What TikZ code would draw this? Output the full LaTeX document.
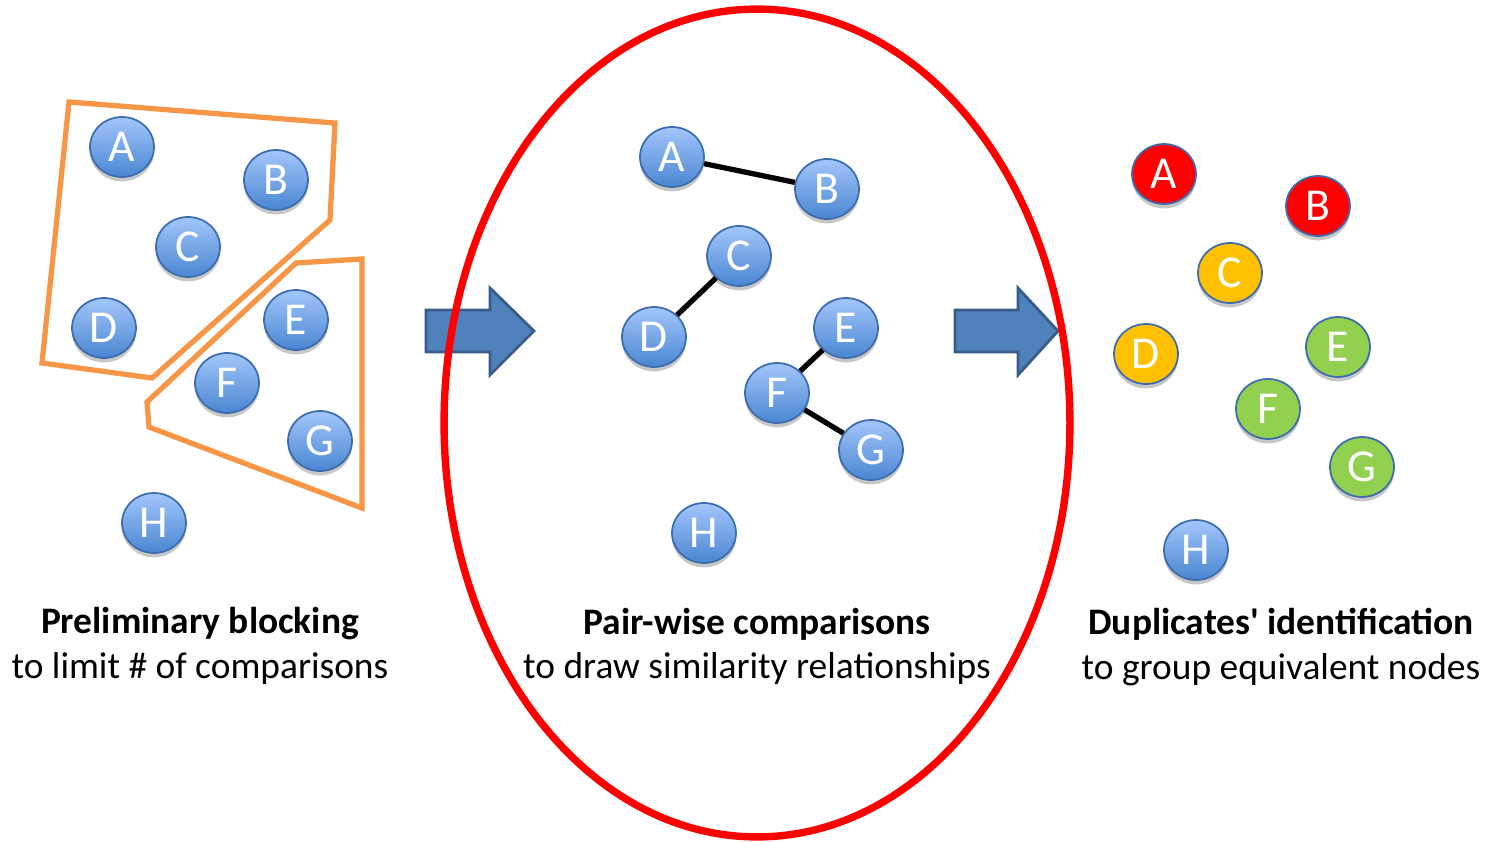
\documentclass[tikz,border=0pt]{standalone}
\usepackage{fontspec}
\setmainfont{Carlito}
\usetikzlibrary{shapes.geometric,shadows}
\definecolor{nodetop}{HTML}{A3C6FA}
\definecolor{nodebot}{HTML}{4A86D2}
\definecolor{nodeborder}{HTML}{3D6DAE}
\definecolor{blockorange}{HTML}{F79646}
\definecolor{arrowfill}{HTML}{4F81BD}
\definecolor{arrowdraw}{HTML}{385D8A}
\definecolor{dupred}{HTML}{FF0000}
\definecolor{dupyellow}{HTML}{FFC000}
\definecolor{dupgreen}{HTML}{92D050}
\tikzset{
  gnode/.style={ellipse, minimum width=1.28cm, minimum height=1.2cm, inner sep=0pt,
    draw=nodeborder, line width=1pt, text=white, font=\fontsize{26}{26}\selectfont,
    drop shadow={shadow xshift=0pt, shadow yshift=-2.5pt, opacity=0.22, fill=black}},
  bluenode/.style={gnode, top color=nodetop, bottom color=nodebot},
  rednode/.style={gnode, fill=dupred},
  yellownode/.style={gnode, fill=dupyellow},
  greennode/.style={gnode, fill=dupgreen},
  block/.style={draw=blockorange, line width=3pt, line join=miter},
  simedge/.style={draw=black, line width=3pt},
  bigarrow/.style={fill=arrowfill, draw=arrowdraw, line width=1.6pt, line join=miter},
  titletext/.style={font=\bfseries\fontsize{21.3}{21.3}\selectfont, text=black},
  subtext/.style={font=\fontsize{21.3}{21.3}\selectfont, text=black}
}
\begin{document}
\begin{tikzpicture}[x=0.02cm,y=-0.02cm]
\useasboundingbox (0,0) rectangle (1492,842);
% blocking polygons
\draw[block] (69,102) -- (335,123) -- (330,220) -- (152,378) -- (42,363) -- cycle;
\draw[block] (296,263) -- (362,259) -- (362,508) -- (149,427) -- (147,402) -- cycle;
% left nodes
\node[bluenode] (lA) at (122,147) {A};
\node[bluenode] (lB) at (276,180) {B};
\node[bluenode] (lC) at (188,247) {C};
\node[bluenode] (lD) at (104,328) {D};
\node[bluenode] (lE) at (296,320) {E};
\node[bluenode] (lF) at (227,383) {F};
\node[bluenode] (lG) at (320,441) {G};
\node[bluenode] (lH) at (154,523) {H};
% arrows
\draw[bigarrow] (426,310) -- (490,310) -- (490,288) -- (534,331) -- (490,375) -- (490,352) -- (426,352) -- cycle;
\draw[bigarrow] (955,310) -- (1018,310) -- (1018,288) -- (1058,331) -- (1018,375) -- (1018,352) -- (955,352) -- cycle;
% middle ellipse
\draw[dupred, line width=4.2pt] (757,423) ellipse [x radius=6.26cm, y radius=8.28cm];
% middle nodes
\node[bluenode] (mA) at (672,157) {A};
\node[bluenode] (mB) at (827,189) {B};
\node[bluenode] (mC) at (739,256) {C};
\node[bluenode] (mD) at (654,337) {D};
\node[bluenode] (mE) at (846,328) {E};
\node[bluenode] (mF) at (777,393) {F};
\node[bluenode] (mG) at (871,450) {G};
\node[bluenode] (mH) at (704,533) {H};
\draw[simedge] (mA) -- (mB);
\draw[simedge] (mC) -- (mD);
\draw[simedge] (mE) -- (mF);
\draw[simedge] (mF) -- (mG);
% right nodes
\node[rednode] (rA) at (1164,174) {A};
\node[rednode] (rB) at (1318,206) {B};
\node[yellownode] (rC) at (1230,273) {C};
\node[yellownode] (rD) at (1146,354) {D};
\node[greennode] (rE) at (1338,347) {E};
\node[greennode] (rF) at (1268,409) {F};
\node[greennode] (rG) at (1362,467) {G};
\node[bluenode] (rH) at (1196,550) {H};
% captions
\node[titletext] (t1) at (200,624) {Preliminary blocking};
\node[subtext] (s1) at (200,669) {to limit \# of comparisons};
\node[titletext] (t2) at (757,624) {Pair-wise comparisons};
\node[subtext] (s2) at (757,669) {to draw similarity relationships};
\node[titletext] (t3) at (1281,624) {Duplicates\textquotesingle{} identification};
\node[subtext] (s3) at (1281,670) {to group equivalent nodes};
\end{tikzpicture}
\end{document}
